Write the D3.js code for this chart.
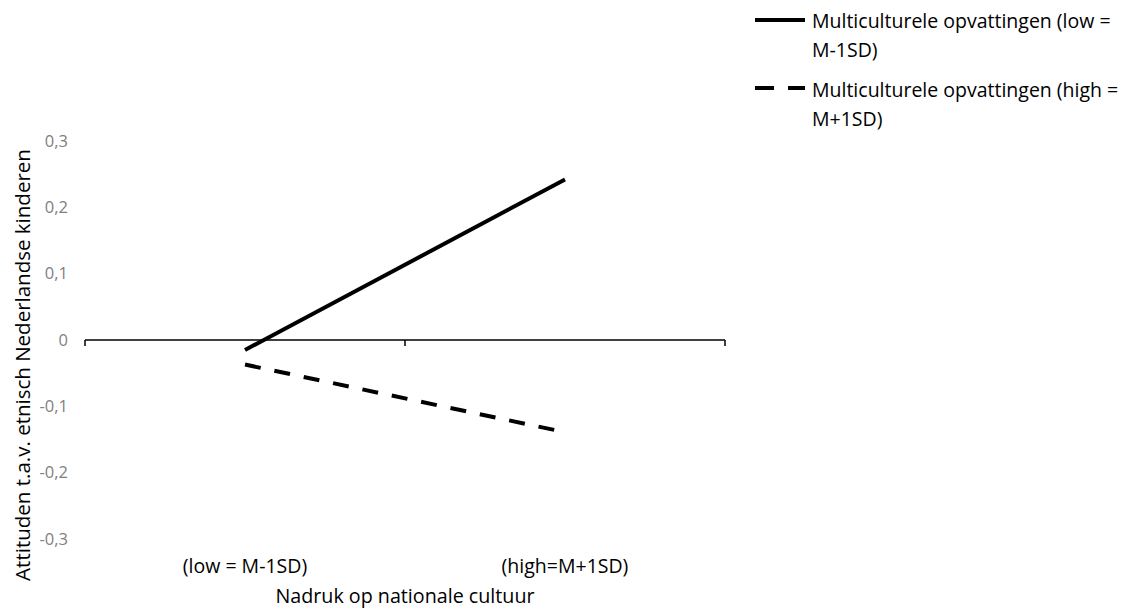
<!DOCTYPE html>
<html><head><meta charset="utf-8">
<script src="https://cdn.jsdelivr.net/npm/d3@7"></script>
<style>body{margin:0;background:#fff;} svg{display:block;font-family:"Open Sans","Noto Sans",sans-serif;}</style>
</head><body>
<svg id="c" width="1125" height="614"></svg>
<script>
const categories = ["(low = M-1SD)", "(high=M+1SD)"];
const seriesNames = ["Multiculturele opvattingen (low = M-1SD)", "Multiculturele opvattingen (high = M+1SD)"];
const seriesLow = [-0.015, 0.242];
const seriesHigh = [-0.037, -0.139];
const yTicks = [-0.3, -0.2, -0.1, 0, 0.1, 0.2, 0.3];
const yTitle = "Attituden t.a.v. etnisch Nederlandse kinderen";
const xTitle = "Nadruk op nationale cultuur";

(function () {
const svg = d3.select("#c");
const mLeft = 85, mRight = 725, mTop = 141, mBottom = 539;
const y = d3.scaleLinear().domain([-0.3, 0.3]).range([mBottom, mTop]);
const x = d3.scalePoint().domain(categories).range([mLeft, mRight]).padding(0.5);
const xb = d3.scaleBand().domain(categories).range([mLeft, mRight]);

const fmt = v => v === 0 ? "0" : d3.format(".1f")(v).replace(".", ",").replace("−", "-");
svg.append("g").selectAll("text").data(yTicks).join("text")
  .attr("x", 68).attr("y", d => y(d)).attr("dy", "0.35em")
  .attr("text-anchor", "end").attr("font-size", 16.5).attr("fill", "#808080")
  .text(fmt);

const axis = svg.append("g").attr("transform", `translate(0,${y(0)})`);
axis.append("line").attr("x1", mLeft).attr("x2", mRight).attr("stroke", "#000").attr("stroke-width", 1.5);
const tickPos = [mLeft, ...categories.slice(1).map(c => xb(c)), mRight];
axis.selectAll("line.t").data(tickPos).join("line").attr("class", "t")
  .attr("x1", d => d).attr("x2", d => d).attr("y1", 0).attr("y2", 6)
  .attr("stroke", "#000").attr("stroke-width", 1.5);

svg.append("g").selectAll("text").data(categories).join("text")
  .attr("x", d => x(d)).attr("y", 573).attr("text-anchor", "middle")
  .attr("font-size", 19.5).attr("fill", "#000").text(d => d);

const line = d3.line().x((d, i) => x(categories[i])).y(d => y(d));
svg.append("path").datum(seriesLow).attr("d", line).attr("fill", "none")
  .attr("stroke", "#000").attr("stroke-width", 4);
svg.append("path").datum(seriesHigh).attr("d", line).attr("fill", "none")
  .attr("stroke", "#000").attr("stroke-width", 4).attr("stroke-dasharray", "16,14");

svg.append("text").attr("transform", `translate(30,365) rotate(-90)`)
  .attr("text-anchor", "middle").attr("font-size", 20.5).attr("fill", "#000").text(yTitle);
svg.append("text").attr("x", 405).attr("y", 603).attr("text-anchor", "middle")
  .attr("font-size", 19.7).attr("fill", "#000").text(xTitle);

const legend = [
  {name: seriesNames[0], lines: ["Multiculturele opvattingen (low =", "M-1SD)"], dash: null, y: 20, base: 28},
  {name: seriesNames[1], lines: ["Multiculturele opvattingen (high =", "M+1SD)"], dash: "19,14", y: 88, base: 97}
];
const lg = svg.append("g");
legend.forEach(l => {
  lg.append("line").attr("x1", 755).attr("x2", 805).attr("y1", l.y).attr("y2", l.y)
    .attr("stroke", "#000").attr("stroke-width", 4).attr("stroke-dasharray", l.dash);
  const t = lg.append("text").attr("x", 812).attr("y", l.base).attr("font-size", 19.5).attr("fill", "#000");
  l.lines.forEach((s, i) => t.append("tspan").attr("x", 812).attr("dy", i === 0 ? 0 : 28.5).text(s));
});
})();
</script>
</body></html>
